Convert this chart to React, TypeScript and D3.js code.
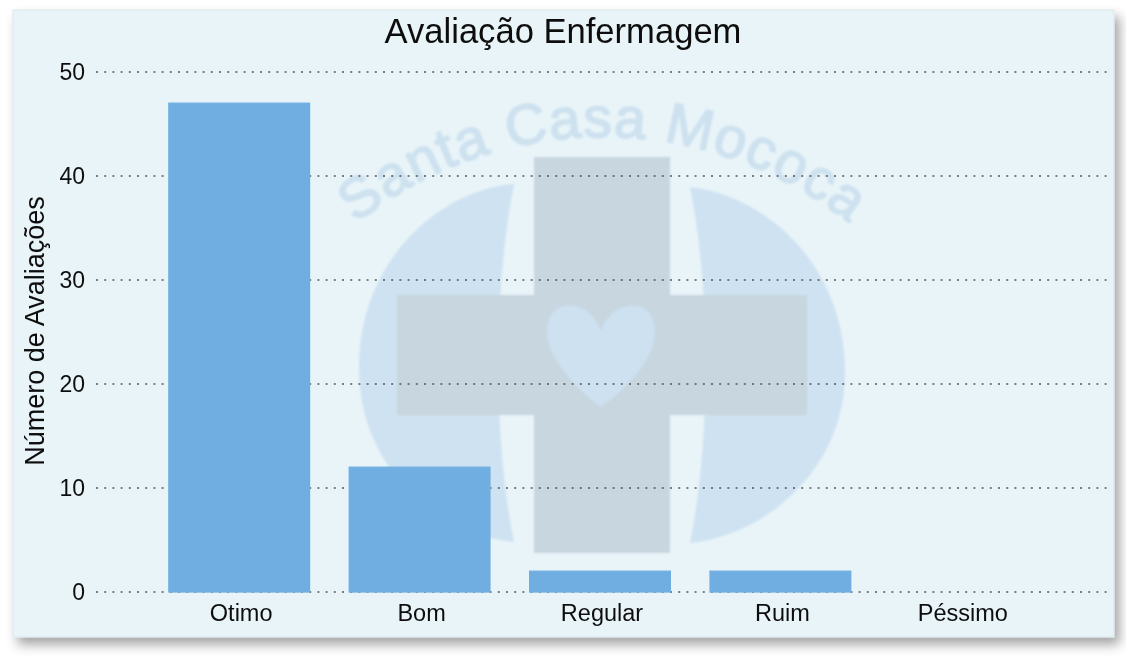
import React from "react";
import * as d3 from "d3";

const categories = ["Otimo", "Bom", "Regular", "Ruim", "Péssimo"];
const values = [47, 12, 2, 2, 0];
const yTicks = [0, 10, 20, 30, 40, 50];
const chartTitle = "Avaliação Enfermagem";
const yAxisTitle = "Número de Avaliações";
const watermarkText = "Santa Casa Mococa";

const W = 1126;
const H = 657;
const FONT = "'Liberation Sans', Arial, sans-serif";

export default function App() {
  const y = d3.scaleLinear().domain([0, 50]).range([592, 72]);
  const x = d3.scaleBand<string>().domain(categories).range([149, 1051]).paddingInner(0.22).paddingOuter(0.11);

  return (
    <svg
      width={W}
      height={H}
      viewBox={`0 0 ${W} ${H}`}
      style={{ position: "absolute", left: 0, top: 0, display: "block", background: "#ffffff" }}
    >
      <defs>
        <filter id="panelShadow" x="-5%" y="-5%" width="110%" height="112%">
          <feDropShadow dx="5" dy="7" stdDeviation="6" floodColor="#000" floodOpacity="0.36" />
        </filter>
        <filter id="soft" x="-5%" y="-5%" width="110%" height="110%">
          <feGaussianBlur stdDeviation="0.9" />
        </filter>
        <filter id="softText" x="-5%" y="-5%" width="110%" height="110%">
          <feGaussianBlur stdDeviation="0.35" />
        </filter>
        <path id="wmArc" d="M 346 232 A 395 395 0 0 1 860 232" />
      </defs>

      <rect x={13} y={10} width={1101} height={627} fill="#e8f4f8" stroke="#dbe6ea" strokeWidth={1} filter="url(#panelShadow)" />

      <g filter="url(#soft)">
        <path d="M514,184 C440,190 359,260 359,368 C359,470 440,535 514,542 C493,440 493,290 514,184 Z" fill="#cfe2f1" />
        <path d="M690,187 C765,195 845,265 845,372 C845,470 765,535 690,543 C711,440 711,290 690,187 Z" fill="#cfe2f1" />
        <rect x={534} y={157} width={136} height={396} fill="#c8d6df" />
        <rect x={397} y={295} width={410} height={120} fill="#c8d6df" />
        <path
          d="M601,331 C594,311 578,303 564,306 C550,309 545,323 548,340 C553,365 580,392 601,407 C622,392 650,365 654,340 C657,323 652,309 638,306 C624,303 608,311 601,331 Z"
          fill="#cde1f1"
        />
        <text fontFamily={FONT} fontSize={57} fill="#cde1ef" stroke="#cde1ef" strokeWidth={1.6} letterSpacing={1.2}>
          <textPath href="#wmArc" startOffset="50%" textAnchor="middle">
            {watermarkText}
          </textPath>
        </text>
      </g>

      <g>
        {yTicks.map((t) => (
          <line key={t} x1={96} x2={1108} y1={y(t)} y2={y(t)} stroke="#555" strokeWidth={1.3} strokeDasharray="2 6.2" />
        ))}
      </g>

      <g>
        {categories.map((c, i) => (
          <rect
            key={c}
            x={x(c)!}
            y={y(values[i])}
            width={x.bandwidth()}
            height={y(0) - y(values[i])}
            fill="#70aee2"
            stroke={values[i] > 0 ? "#70aee2" : "none"}
            strokeWidth={1.3}
          />
        ))}
      </g>

      <g fontFamily={FONT} fill="#111" filter="url(#softText)">
        <text x={563} y={43} textAnchor="middle" fontSize={34.6}>
          {chartTitle}
        </text>
        {yTicks.map((t) => (
          <text key={t} x={85} y={y(t) + 8} textAnchor="end" fontSize={23}>
            {t}
          </text>
        ))}
        {categories.map((c) => (
          <text key={c} x={x(c)! + x.bandwidth() / 2 + 2} y={621} textAnchor="middle" fontSize={23.5}>
            {c}
          </text>
        ))}
        <text transform="translate(44,331) rotate(-90)" textAnchor="middle" fontSize={27}>
          {yAxisTitle}
        </text>
      </g>
    </svg>
  );
}
